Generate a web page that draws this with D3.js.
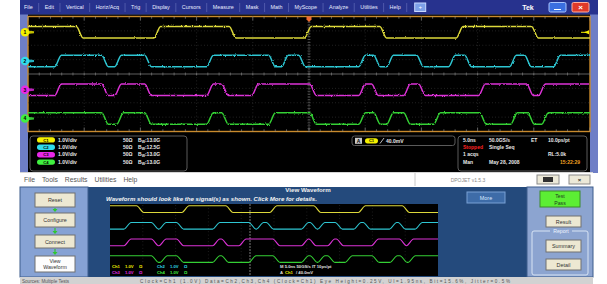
<!DOCTYPE html>
<html>
<head>
<meta charset="utf-8">
<script src="https://cdn.jsdelivr.net/npm/d3@7"></script>
<style>
body { margin: 0; background: #fff; }
svg { display: block; }
text { font-family: "Liberation Sans", Arial, sans-serif; }
</style>
</head>
<body>
<div id="chart"></div>
<script>
// ---- data ----
var menu_items = ["File", "Edit", "Vertical", "Horiz/Acq", "Trig", "Display", "Cursors", "Measure", "Mask", "Math", "MyScope", "Analyze", "Utilities", "Help"];
var channels = ["C1", "C2", "C3", "C4"];
var channel_offsets = [2.9, 0.9, -1.1, -3.1];      // divisions
var start_levels = [1, 0, 0, 1];
var c1_edges = [4.6, 11.5, 18.2, 24.9, 31.6, 38.4, 45.1];   // ns
var c2_edges = [2.67, 6.85, 8.01, 10.68, 16.19, 21.71, 22.86, 24.38, 29.72, 31.05, 32.21, 34.88, 37.72, 39.15, 43.15, 44.48, 47.06];
var c3_edges = [2.67, 6.85, 8.01, 10.68, 16.19, 17.53, 20.2, 25.36, 29.72, 30.87, 33.72, 35.05, 40.39, 44.66, 45.73];
var c4_edges = [6.85, 8.19, 10.68, 16.19, 17.53, 21.71, 25.36, 29.72, 31.05, 32.21, 33.72, 36.39, 40.48, 43.24, 44.75, 46.0];
var high_volts = 0.4, low_volts = -0.4;
var volts_div = ["1.0V/div", "1.0V/div", "1.0V/div", "1.0V/div"];
var bandwidths = ["13.0G", "12.5G", "13.0G", "13.0G"];
var trigger_level = "40.0mV";
var horiz_info = ["5.0ns", "50.0GS/s", "ET", "10.0ps/pt"];
var acq_info = ["1 acqs", "RL:5.0k"];
var date_info = ["Man", "May 28, 2008", "15:22:29"];
var app_menu = ["File", "Tools", "Results", "Utilities", "Help"];
var left_buttons = ["Reset", "Configure", "Connect", "View Waveform"];
var status_left = "Sources: Multiple Tests";
var status_right = "Clock=Ch1 (1.0V)  Data=Ch2,Ch3,Ch4 (Clock=Ch1)  Eye Height=0.25V, UI=1.95ns, Bit=15.6%, Jitter=0.5%";

var colors = ["#dcd83a", "#2ec6d2", "#dc32d6", "#34d034"];
var marker_colors = ["#f4f000", "#30dcec", "#e828e8", "#40f040"];

var W = 607, H = 284;
var svg = d3.select("#chart").append("svg").attr("width", W).attr("height", H);

var defs = svg.append("defs");
var flt = defs.append("filter").attr("id", "noise")
    .attr("x", "-2%").attr("y", "-60%").attr("width", "104%").attr("height", "220%");
flt.append("feTurbulence").attr("type", "fractalNoise").attr("baseFrequency", "0.9")
    .attr("numOctaves", 1).attr("seed", 4).attr("result", "t");
flt.append("feDisplacementMap").attr("in", "SourceGraphic").attr("in2", "t")
    .attr("scale", 2.6).attr("xChannelSelector", "R").attr("yChannelSelector", "G");

function rect(g, x, y, w, h, fill, stroke, rx) {
    return g.append("rect").attr("x", x).attr("y", y).attr("width", w).attr("height", h)
        .attr("fill", fill).attr("stroke", stroke || "none").attr("rx", rx || 0);
}
function label(g, x, y, s, size, fill, anchor, weight) {
    return g.append("text").attr("x", x).attr("y", y).text(s)
        .attr("font-size", size).attr("fill", fill)
        .attr("text-anchor", anchor || "start").attr("font-weight", weight || "normal");
}

rect(svg, 0, 0, W, H, "#fff");

// ---- scope window ----
rect(svg, 20, 0, 578, 173, "#6e7ec6");
rect(svg, 20, 0, 578, 14.5, "#27328e");

let mx = 24;
menu_items.forEach(function (m, i) {
    let t = label(svg, mx, 9, m, 5.4, "#e8ecff");
    let w = t.node().getComputedTextLength();
    mx += w + 6;
    svg.append("line").attr("x1", mx).attr("x2", mx).attr("y1", 3).attr("y2", 12)
        .attr("stroke", "#6a74c0").attr("stroke-width", 0.6);
    mx += 6;
});
rect(svg, mx + 2, 3, 11, 8.5, "#7da0e8", "#c8d8ff");
label(svg, mx + 7.5, 9.2, "+", 6, "#fff", "middle");
label(svg, 528, 9.5, "Tek", 7, "#fff", "middle", "bold");
rect(svg, 549, 2.5, 17, 9.5, "#3a6ee0", "#a8c4ff", 1.5);
svg.append("line").attr("x1", 554).attr("x2", 561).attr("y1", 9.5).attr("y2", 9.5).attr("stroke", "#fff");
rect(svg, 572, 2.5, 17, 9.5, "#e03a2a", "#ffb0a0", 1.5);
label(svg, 580.5, 10, "×", 8, "#fff", "middle", "bold");

// graticule
var gx0 = 28, gx1 = 590, gy0 = 16.5, gy1 = 131.5;
var x = d3.scaleLinear().domain([0, 50]).range([gx0, gx1]);
var y = d3.scaleLinear().domain([-4, 4]).range([gy1, gy0]);
rect(svg, 28, 14.5, 562, 158, "#000");
rect(svg, gx0, gy0, gx1 - gx0, gy1 - gy0, "#000", "#c98a2c").attr("stroke-width", 1.4);

var grid = svg.append("g");
d3.range(1, 10).forEach(function (d) {
    grid.append("line").attr("x1", x(d * 5)).attr("x2", x(d * 5)).attr("y1", gy0).attr("y2", gy1)
        .attr("stroke", d === 5 ? "#6a6a6a" : "#3c3c3c").attr("stroke-width", 0.7)
        .attr("stroke-dasharray", d === 5 ? "1,1.5" : "0.8,2.4");
});
d3.range(-3, 4).forEach(function (d) {
    grid.append("line").attr("x1", gx0).attr("x2", gx1).attr("y1", y(d)).attr("y2", y(d))
        .attr("stroke", d === 0 ? "#6a6a6a" : "#3c3c3c").attr("stroke-width", d === 0 ? 0.9 : 0.7)
        .attr("stroke-dasharray", d === 0 ? null : "0.8,2.4");
});
d3.range(0, 50.01, 1).forEach(function (t) {
    let len = (t % 5 === 0) ? 4 : 2.2;
    [gy0, gy1].forEach(function (yy, k) {
        grid.append("line").attr("x1", x(t)).attr("x2", x(t))
            .attr("y1", yy).attr("y2", k ? yy - len : yy + len).attr("stroke", "#9a9a9a").attr("stroke-width", 0.6);
    });
    grid.append("line").attr("x1", x(t)).attr("x2", x(t)).attr("y1", y(0) - 1.5).attr("y2", y(0) + 1.5)
        .attr("stroke", "#8a8a8a").attr("stroke-width", 0.6);
});
d3.range(-4, 4.01, 0.2).forEach(function (v) {
    grid.append("line").attr("x1", x(25) - 1.5).attr("x2", x(25) + 1.5).attr("y1", y(v)).attr("y2", y(v))
        .attr("stroke", "#8a8a8a").attr("stroke-width", 0.5);
});

function trace_points(start, edges, rise, tmax) {
    let pts = [[0, start]];
    let lvl = start;
    edges.forEach(function (t) {
        pts.push([t - rise, lvl]);
        lvl = 1 - lvl;
        pts.push([t + rise, lvl]);
    });
    pts.push([tmax, lvl]);
    return pts;
}
var all_edges = [c1_edges, c2_edges, c3_edges, c4_edges];

var traces = svg.append("g");
all_edges.forEach(function (edges, i) {
    let line = d3.line()
        .x(function (d) { return x(d[0]); })
        .y(function (d) { return y(channel_offsets[i] + (d[1] ? high_volts : low_volts)); })
        .curve(d3.curveMonotoneX);
    traces.append("path").attr("d", line(trace_points(start_levels[i], edges, 0.3, 50)))
        .attr("fill", "none").attr("stroke", colors[i]).attr("stroke-width", 1.5)
        .attr("filter", "url(#noise)");
});

// channel ground markers
channels.forEach(function (c, i) {
    let yy = y(channel_offsets[i]);
    svg.append("path").attr("d", "M25," + (yy - 2) + "L34," + (yy - 1) + "L34," + (yy + 1) + "L25," + (yy + 2) + "Z")
        .attr("fill", marker_colors[i]).attr("opacity", 0.8);
    svg.append("circle").attr("cx", 25).attr("cy", yy).attr("r", 4.3).attr("fill", marker_colors[i]);
    label(svg, 25, yy + 1.8, c.slice(1), 5, "#000", "middle", "bold");
});
// trigger markers
svg.append("path").attr("d", "M" + (x(25) - 2.5) + "," + gy0 + "h5v3l-2.5,2.5l-2.5,-2.5z").attr("fill", "#f06a30");
svg.append("path").attr("d", "M" + (gx1 - 1) + "," + (y(channel_offsets[0]) - 2) + "v4l-5,-2z").attr("fill", marker_colors[0]);
svg.append("line").attr("x1", gx1 - 9).attr("x2", gx1 - 4).attr("y1", y(channel_offsets[0])).attr("y2", y(channel_offsets[0]))
    .attr("stroke", marker_colors[0]).attr("stroke-width", 1);

// info boxes
var info = svg.append("g");
rect(info, 30, 136, 157, 35, "#000", "#5a5a5a", 3);
channels.forEach(function (c, i) {
    let yy = 141.5 + i * 7.4;
    rect(info, 37, yy - 4.3, 18, 5.4, marker_colors[i], null, 2.7);
    label(info, 46, yy, c, 4.2, "#000", "middle", "bold");
    label(info, 58, yy, volts_div[i], 5, "#e8e8e8", "start", "bold");
    label(info, 123, yy, "50Ω", 5, "#e8e8e8", "start", "bold");
    let t = label(info, 138, yy, "B", 5, "#e8e8e8", "start", "bold");
    t.append("tspan").attr("font-size", 3.5).attr("dy", 1).text("W");
    t.append("tspan").attr("dy", -1).text(":" + bandwidths[i]);
});
rect(info, 352, 136, 103, 9.5, "#000", "#5a5a5a", 2.5);
rect(info, 355, 137.8, 7, 6, "#c8c8c8");
label(info, 358.5, 142.8, "A", 5, "#000", "middle", "bold");
rect(info, 365, 138.2, 13, 5.2, marker_colors[0], null, 2.6);
label(info, 371.5, 142.3, "C1", 4, "#000", "middle", "bold");
info.append("line").attr("x1", 380).attr("x2", 384).attr("y1", 143.5).attr("y2", 138).attr("stroke", "#e8e8e8").attr("stroke-width", 0.8);
label(info, 386, 142.8, trigger_level, 5, "#e8e8e8", "start", "bold");

rect(info, 458, 136, 129, 35, "#000", "#5a5a5a", 3);
[463, 489, 531, 548].forEach(function (xx, k) {
    label(info, xx, 141.5, horiz_info[k], 5, "#e8e8e8", "start", "bold");
});
label(info, 463, 149, "Stopped", 5, "#ff2020", "start", "bold");
label(info, 489, 149, "Single Seq", 5, "#e8e8e8", "start", "bold");
label(info, 463, 156.4, acq_info[0], 5, "#e8e8e8", "start", "bold");
label(info, 548, 156.4, acq_info[1], 5, "#e8e8e8", "start", "bold");
label(info, 463, 163.8, date_info[0], 5, "#e8e8e8", "start", "bold");
label(info, 489, 163.8, date_info[1], 5, "#e8e8e8", "start", "bold");
label(info, 560, 163.8, date_info[2], 5, "#f0a020", "start", "bold");

// ---- application window ----
rect(svg, 20, 172, 573, 15, "#fff");
svg.append("line").attr("x1", 20).attr("x2", 593).attr("y1", 172.5).attr("y2", 172.5).attr("stroke", "#b8b8b8").attr("stroke-width", 0.6);
let ax = 24;
app_menu.forEach(function (m) {
    let t = label(svg, ax, 182, m, 6.8, "#555");
    ax += t.node().getComputedTextLength() + 7;
});
svg.append("line").attr("x1", 415).attr("x2", 415).attr("y1", 173).attr("y2", 186).attr("stroke", "#c8c8c8");
label(svg, 468, 181.5, "DPOJET v1.5.3", 5, "#888", "middle");
rect(svg, 537, 175, 22, 9, "#ece9d8", "#8a8a8a");
rect(svg, 543, 177, 10, 5, "#303030");
rect(svg, 569, 175, 21, 9, "#ece9d8", "#8a8a8a");
label(svg, 579.5, 181.8, "×", 6, "#333", "middle", "bold");

rect(svg, 20, 187, 573, 90, "#244a7c");
rect(svg, 20, 187, 68, 90, "#86a2d4", "#3c5c8c");
rect(svg, 527, 187, 66, 90, "#8ca4d0", "#3c5c8c");

var by = [193, 213, 235, 256];
var bh = [14, 14, 13, 16];
left_buttons.forEach(function (b, i) {
    let last = i === left_buttons.length - 1;
    rect(svg, 35, by[i], 40, bh[i], last ? "#fdfdfd" : "#ede8d2", "#707070");
    if (last) {
        label(svg, 55, by[i] + 6.5, "View", 5.2, "#333", "middle");
        label(svg, 55, by[i] + 12.5, "Waveform", 5.2, "#333", "middle");
    } else {
        label(svg, 55, by[i] + bh[i] / 2 + 2, b, 5.4, "#333", "middle");
    }
    if (i > 0) {
        let top = by[i - 1] + bh[i - 1] + 1, bot = by[i] - 1;
        svg.append("line").attr("x1", 55).attr("x2", 55).attr("y1", top).attr("y2", bot - 2)
            .attr("stroke", "#2ec82e").attr("stroke-width", 1.2);
        svg.append("path").attr("d", "M52.5," + (bot - 3) + "h5l-2.5,3z").attr("fill", "#2ec82e");
    }
});

label(svg, 308, 191.5, "View Waveform", 6.2, "#f0f0f0", "middle", "bold");
label(svg, 106, 200.5, "Waveform should look like the signal(s) as shown. Click More for details.", 6.1, "#f4f4f4", "start", "bold")
    .attr("font-style", "italic");
rect(svg, 467, 192, 38, 11, "#3e6ca8", "#78a0d4");
label(svg, 486, 199.5, "More", 5.4, "#dce8ff", "middle");

// small scope
var sx = d3.scaleLinear().domain([0, 50]).range([110, 438]);
var sy = d3.scaleLinear().domain([4, -4]).range([200, 266.5]);
rect(svg, 110, 204, 328, 72, "#000");
var sgrid = svg.append("g");
d3.range(1, 10).forEach(function (d) {
    sgrid.append("line").attr("x1", sx(d * 5)).attr("x2", sx(d * 5)).attr("y1", 205).attr("y2", 264)
        .attr("stroke", "#3a3a3a").attr("stroke-width", 0.6).attr("stroke-dasharray", "0.8,2.5");
});
sgrid.append("line").attr("x1", 250).attr("x2", 250).attr("y1", 204).attr("y2", 276)
    .attr("stroke", "#b0b0b0").attr("stroke-width", 0.7).attr("stroke-dasharray", "2,1");
all_edges.forEach(function (edges, i) {
    let line = d3.line()
        .x(function (d) { return sx(d[0]); })
        .y(function (d) { return sy(channel_offsets[i] + (d[1] ? high_volts : low_volts)); })
        .curve(d3.curveMonotoneX);
    svg.append("path").attr("d", line(trace_points(start_levels[i], edges, 0.55, 50)))
        .attr("fill", "none").attr("stroke", colors[i]).attr("stroke-width", 1.1);
});
[[0, 112, 268], [1, 157, 268], [2, 112, 273.5], [3, 157, 273.5]].forEach(function (r) {
    let c = marker_colors[r[0]];
    label(svg, r[1], r[2], "Ch" + (r[0] + 1), 4.2, c, "start", "bold");
    label(svg, r[1] + 13, r[2], "1.0V", 4.2, c, "start", "bold");
    label(svg, r[1] + 27, r[2], "Ω", 4.2, c, "start", "bold");
});
label(svg, 280, 268, "M 5.0ns 50GS/s  IT 10ps/pt", 4.2, "#e0e0e0", "start", "bold");
label(svg, 280, 273.5, "A", 4.2, "#e0e0e0", "start", "bold");
label(svg, 285, 273.5, "Ch1", 4.2, marker_colors[0], "start", "bold");
label(svg, 296, 273.5, "/  40.0mV", 4.2, "#e0e0e0", "start", "bold");

// right panel
rect(svg, 540, 191, 40, 16, "#5cee34", "#3a8a2a");
label(svg, 560, 198, "Test", 5.2, "#204020", "middle");
label(svg, 560, 204.5, "Pass", 5.2, "#204020", "middle");
rect(svg, 546, 216, 35, 11, "#ede8d2", "#707070");
label(svg, 563.5, 223.5, "Result", 5.4, "#333", "middle");
rect(svg, 532, 231, 56, 44, "none", "#d8e4f4", 2);
rect(svg, 550, 228, 22, 6, "#8ca4d0");
label(svg, 561, 233, "Report", 5.2, "#eef4ff", "middle");
rect(svg, 546, 240, 35, 12, "#ede8d2", "#707070");
label(svg, 563.5, 248, "Summary", 5.4, "#333", "middle");
rect(svg, 546, 259, 35, 11, "#ede8d2", "#707070");
label(svg, 563.5, 266.5, "Detail", 5.4, "#333", "middle");

// status bar
rect(svg, 20, 277, 573, 7, "#d2d2d2");
label(svg, 22, 282.5, status_left, 4.6, "#555");
label(svg, 140, 282.5, status_right, 4.6, "#555")
    .attr("textLength", 370).attr("lengthAdjust", "spacing");
</script>
</body>
</html>
